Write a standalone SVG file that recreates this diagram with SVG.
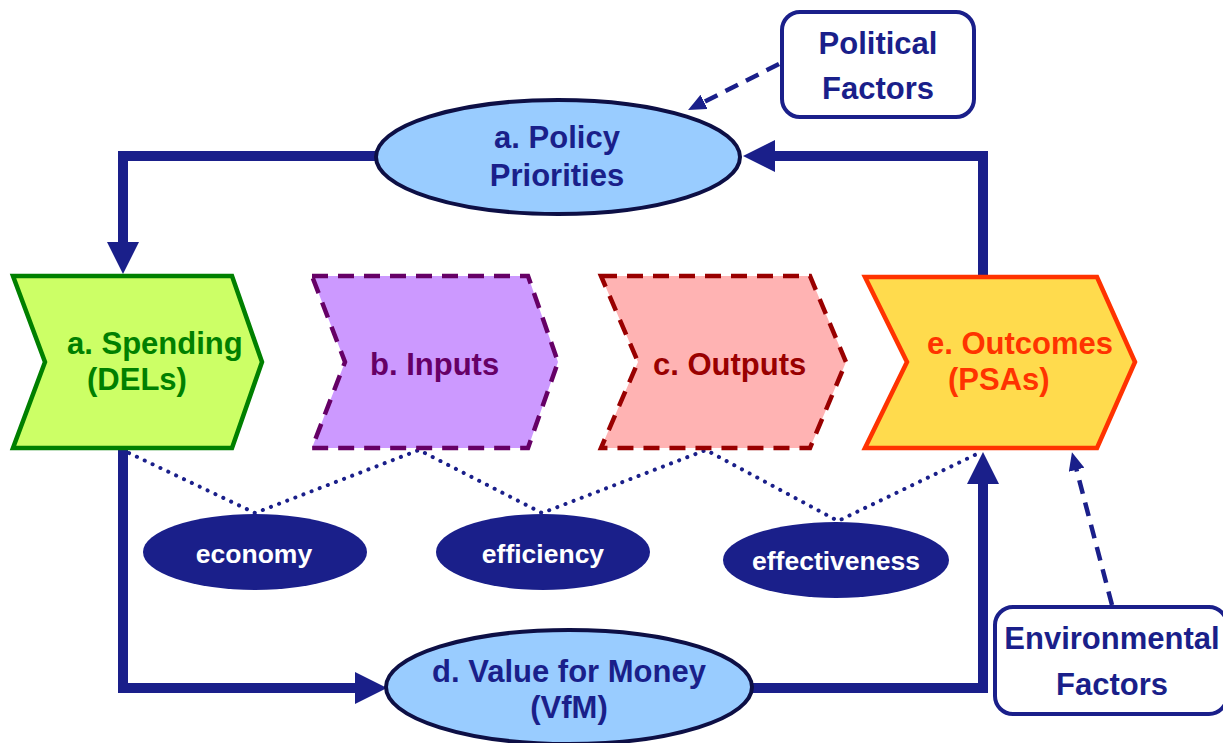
<svg xmlns="http://www.w3.org/2000/svg" width="1223" height="743" viewBox="0 0 1223 743">
<style>
text{font-family:"Liberation Sans",Arial,sans-serif;font-weight:bold;}
.big{font-size:31px;}
.small{font-size:26.5px;fill:#ffffff;text-anchor:middle;}
.navy{fill:#1a1f8a;}
.mid{text-anchor:middle;}
.flow{fill:none;stroke:#1a1f8a;stroke-width:10;stroke-linejoin:miter;marker-end:url(#bigArrow);}
.dash{fill:none;stroke:#1a1f8a;stroke-width:4.5;stroke-dasharray:14 9;marker-end:url(#smallArrow);}
.dots{fill:none;stroke:#1a1f8a;stroke-width:4;stroke-linecap:round;stroke-dasharray:0.1 8.6;}
.bigEll{fill:#99ccff;stroke:#0d0f45;stroke-width:4;}
.smEll{fill:#1a1f8a;}
.box{fill:#ffffff;stroke:#1a1f8a;stroke-width:4;}
.chev{stroke-width:4.5;}
.dashed{stroke-dasharray:16 10;}
</style>
<defs>
<marker id="bigArrow" markerUnits="userSpaceOnUse" viewBox="0 0 32 32" markerWidth="32" markerHeight="32" refX="12" refY="16" orient="auto">
<path d="M0,0 L32,16 L0,32 Z" fill="#1a1f8a"/>
</marker>
<marker id="smallArrow" markerUnits="userSpaceOnUse" viewBox="0 0 18 16" markerWidth="18" markerHeight="16" refX="8" refY="8" orient="auto">
<path d="M0,0 L18,8 L0,16 Z" fill="#1a1f8a"/>
</marker>
</defs>
<rect x="0" y="0" width="1223" height="743" fill="#ffffff"/>

<g id="connectors">
<path class="flow" d="M377,156 H123 V254"/>
<path class="flow" d="M983,277 V156 H763"/>
<path class="flow" d="M123,448 V688 H367"/>
<path class="flow" d="M750,688 H983 V472"/>
<path class="dash" d="M779,64 L697,105.5"/>
<path class="dash" d="M1112,605 L1074.5,462"/>
<polyline class="dots" points="129,453 255,513 419,450 542,513 706,450 838,521 981,452"/>
</g>

<g id="policy">
<ellipse class="bigEll" cx="558" cy="157" rx="182" ry="57"/>
<text class="big navy mid" x="557" y="148">a. Policy</text>
<text class="big navy mid" x="557" y="186">Priorities</text>
</g>

<g id="political">
<rect class="box" x="782" y="12" width="192" height="105" rx="18"/>
<text class="big navy mid" x="878" y="54">Political</text>
<text class="big navy mid" x="878" y="99">Factors</text>
</g>

<g id="spending">
<polygon class="chev" points="13,276 232,276 262,362 232,448 13,448 45,362" fill="#ccff66" stroke="#008000"/>
<text class="big" x="67" y="354" fill="#008000">a. Spending</text>
<text class="big" x="87" y="390" fill="#008000">(DELs)</text>
</g>

<g id="inputs">
<polygon class="chev dashed" points="312,276 528,276 558,362 528,448 312,448 345,362" fill="#cc99ff" stroke="#660066"/>
<text class="big" x="370" y="375" fill="#660066">b. Inputs</text>
</g>

<g id="outputs">
<polygon class="chev dashed" points="601,276 810,276 846,362 810,448 601,448 638,362" fill="#ffb3b3" stroke="#990000"/>
<text class="big" x="653" y="375" fill="#990000">c. Outputs</text>
</g>

<g id="outcomes">
<polygon class="chev" points="865,277 1097,277 1135,362 1097,448 865,448 907,362" fill="#ffdb4d" stroke="#ff3300"/>
<text class="big" x="927" y="354" fill="#ff3300">e. Outcomes</text>
<text class="big" x="948" y="390" fill="#ff3300">(PSAs)</text>
</g>

<g id="economy">
<ellipse class="smEll" cx="255" cy="552" rx="112" ry="38"/>
<text class="small" x="254" y="563">economy</text>
</g>

<g id="efficiency">
<ellipse class="smEll" cx="543" cy="552" rx="107" ry="38"/>
<text class="small" x="543" y="563">efficiency</text>
</g>

<g id="effectiveness">
<ellipse class="smEll" cx="836" cy="560" rx="113" ry="38"/>
<text class="small" x="836" y="570">effectiveness</text>
</g>

<g id="vfm">
<ellipse class="bigEll" cx="569" cy="687" rx="183" ry="57"/>
<text class="big navy mid" x="569" y="682">d. Value for Money</text>
<text class="big navy mid" x="569" y="718">(VfM)</text>
</g>

<g id="environmental">
<rect class="box" x="995" y="607" width="232" height="107" rx="18"/>
<text class="big navy mid" x="1112" y="649">Environmental</text>
<text class="big navy mid" x="1112" y="695">Factors</text>
</g>
</svg>
